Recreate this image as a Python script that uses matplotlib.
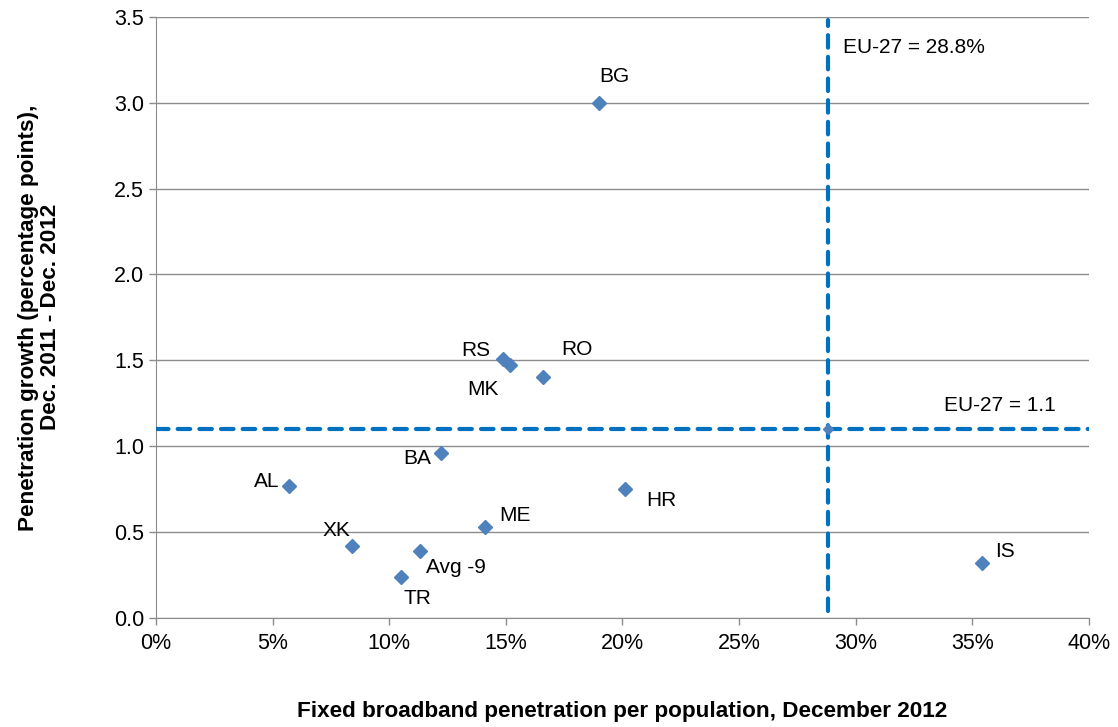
import matplotlib.pyplot as plt
from matplotlib.ticker import FuncFormatter, MultipleLocator

plt.rcParams['font.family'] = ['Liberation Sans', 'DejaVu Sans']

# broadband penetration (%) and growth (pp) per country
countries = ['BG', 'RS', 'MK', 'RO', 'BA', 'AL', 'HR', 'ME', 'XK', 'Avg -9', 'TR', 'IS']
penetration = [19.0, 14.9, 15.2, 16.6, 12.2, 5.7, 20.1, 14.1, 8.4, 11.3, 10.5, 35.4]
growth = [3.0, 1.51, 1.47, 1.40, 0.96, 0.77, 0.75, 0.53, 0.42, 0.39, 0.24, 0.32]
# label offsets in points
offsets = [(11, 19), (-20, 6), (-20, -17), (24, 20), (-17, -4), (-16, 3),
           (26, -8), (22, 8), (-11, 11), (26, -12), (12, -16), (17, 8)]

eu_pen = 28.8
eu_growth = 1.1

fig = plt.figure(figsize=(11.18, 7.27), dpi=100)
ax = fig.add_axes([0.1395, 0.150, 0.8345, 0.827])

blue = '#0070C0'
ax.axhline(eu_growth, color=blue, lw=3, ls=(0, (3, 2.2)), dash_capstyle='round', zorder=3)
ax.axvline(eu_pen, ymin=0.012, ymax=0.995, color=blue, lw=3, ls=(0, (3, 2.2)),
           dash_capstyle='round', zorder=3)

ax.plot(penetration, growth, 'D', color='#4F81BD', ms=7, zorder=4)
ax.plot([eu_pen], [eu_growth], 'D', color='#4F81BD', ms=5, zorder=4)

for name, x, y, off in zip(countries, penetration, growth, offsets):
    ax.annotate(name, (x, y), xytext=off, textcoords='offset points',
                ha='center', va='center', fontsize=15)

ax.annotate('EU-27 = 28.8%', (eu_pen, 3.5), xytext=(11, -22), textcoords='offset points',
            ha='left', va='center', fontsize=15)
ax.annotate('EU-27 = 1.1', (40, eu_growth), xytext=(-64, 17), textcoords='offset points',
            ha='center', va='center', fontsize=15)

ax.set_xlim(0, 40)
ax.set_ylim(0, 3.5)
ax.xaxis.set_major_locator(MultipleLocator(5))
ax.yaxis.set_major_locator(MultipleLocator(0.5))
ax.xaxis.set_major_formatter(FuncFormatter(lambda v, p: f'{v:.0f}%'))
ax.yaxis.set_major_formatter(FuncFormatter(lambda v, p: f'{v:.1f}'))
ax.grid(axis='y', color='#8c8c8c', lw=1)
ax.set_axisbelow(True)
for side in ['top', 'right']:
    ax.spines[side].set_visible(False)
for side in ['left', 'bottom']:
    ax.spines[side].set_color('#8c8c8c')
ax.tick_params(colors='#8c8c8c', labelcolor='black', labelsize=15.5, length=5, width=1)
ax.tick_params(axis='x', pad=6)

ax.set_xlabel('Fixed broadband penetration per population, December 2012',
              fontsize=16.2, fontweight='bold', labelpad=34)
ax.set_ylabel('Penetration growth (percentage points),\nDec. 2011 - Dec. 2012',
              fontsize=16.2, fontweight='bold', labelpad=38, linespacing=1.1)

fig.savefig('out.png', dpi=100)
